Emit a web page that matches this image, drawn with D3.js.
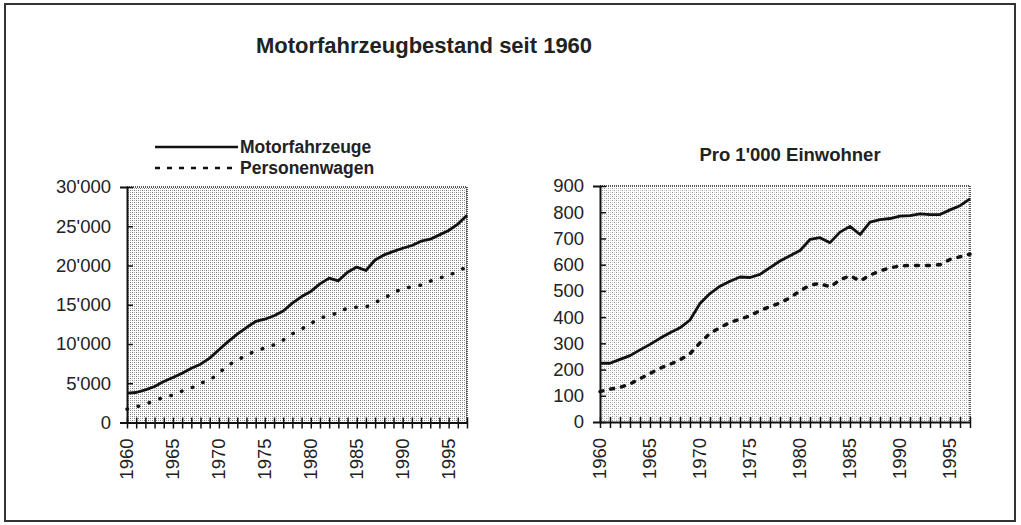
<!DOCTYPE html>
<html>
<head>
<meta charset="utf-8">
<script src="https://cdn.jsdelivr.net/npm/d3@7"></script>
<style>
  body { margin: 0; background: #fff; }
  svg { font-family: "Liberation Sans", Arial, sans-serif; }
</style>
</head>
<body>
<div id="chart"></div>
<script>
const years = d3.range(1960, 1998);
const labelYears = [1960, 1965, 1970, 1975, 1980, 1985, 1990, 1995];
const yTicksLeft = [0, 5000, 10000, 15000, 20000, 25000, 30000];
const yTicksRight = [0, 100, 200, 300, 400, 500, 600, 700, 800, 900];

// Bestand (absolut)
const motorTotal = [3740, 3820, 4160, 4590, 5220, 5730, 6280, 6920, 7430, 8200,
  9260, 10300, 11250, 12100, 12870, 13160, 13600, 14200, 15200, 16050,
  16700, 17660, 18400, 18050, 19150, 19800, 19360, 20700, 21360, 21800,
  22200, 22550, 23100, 23350, 23900, 24460, 25270, 26400];
const carsTotal = [1700, 2000, 2300, 2800, 3200, 3500, 4000, 4400, 5000, 5400,
  6300, 7300, 7900, 8600, 9100, 9500, 9900, 10500, 11300, 11900,
  12600, 13300, 13600, 14000, 14600, 14700, 14700, 15300, 15800, 16600,
  17000, 17300, 17500, 18000, 18400, 18700, 19300, 19800];

// Pro 1'000 Einwohner
const motorPer1000 = [224, 224, 239, 253, 275, 296, 319, 340, 359, 389,
  452, 490, 518, 537, 553, 551, 563, 589, 614, 634,
  654, 696, 703, 684, 724, 746, 715, 762, 772, 776,
  785, 787, 794, 791, 791, 809, 825, 851];
const carsPer1000 = [116, 125, 132, 145, 165, 185, 205, 220, 237, 260,
  302, 338, 360, 380, 392, 405, 425, 440, 454, 474,
  500, 522, 528, 515, 542, 558, 538, 560, 576, 588,
  595, 597, 597, 597, 600, 620, 630, 640];

const w = 1021, h = 525;
const svg = d3.select('#chart').append('svg').attr('width', w).attr('height', h);

const fmt = d3.formatLocale({ decimal: '.', thousands: "'", grouping: [3], currency: ['', ''] }).format(',');

const defs = svg.append('defs');
function stipple(id, dark, light) {
  const p = defs.append('pattern').attr('id', id).attr('patternUnits', 'userSpaceOnUse')
    .attr('width', 4).attr('height', 4);
  p.append('rect').attr('width', 4).attr('height', 4).attr('fill', '#fff');
  p.append('rect').attr('x', 0).attr('y', 0).attr('width', 1).attr('height', 1).attr('fill', dark);
  p.append('rect').attr('x', 2).attr('y', 2).attr('width', 1).attr('height', 1).attr('fill', dark);
  p.append('rect').attr('x', 2).attr('y', 0).attr('width', 1).attr('height', 1).attr('fill', light);
  p.append('rect').attr('x', 0).attr('y', 2).attr('width', 1).attr('height', 1).attr('fill', light);
}
stipple('dotsLeft', '#7a7a7a', '#aaaaaa');
stipple('dotsRight', '#999999', '#cccccc');

// outer frame
svg.append('rect').attr('x', 5).attr('y', 4).attr('width', 1010).attr('height', 517)
  .attr('fill', 'none').attr('stroke', '#333').attr('stroke-width', 2);

svg.append('text').attr('x', 424).attr('y', 53).attr('text-anchor', 'middle')
  .attr('font-size', 22).attr('font-weight', 'bold').attr('fill', '#222')
  .text('Motorfahrzeugbestand seit 1960');

// legend
const legend = svg.append('g');
legend.append('line').attr('x1', 155).attr('x2', 238).attr('y1', 147).attr('y2', 147)
  .attr('stroke', '#111').attr('stroke-width', 2.5);
legend.append('line').attr('x1', 155).attr('x2', 238).attr('y1', 168).attr('y2', 168)
  .attr('stroke', '#111').attr('stroke-width', 2.5).attr('stroke-dasharray', '5,7');
legend.append('text').attr('x', 240).attr('y', 153).attr('font-size', 17.5).attr('font-weight', 'bold')
  .attr('fill', '#222').text('Motorfahrzeuge');
legend.append('text').attr('x', 240).attr('y', 174).attr('font-size', 17.5).attr('font-weight', 'bold')
  .attr('fill', '#222').text('Personenwagen');

svg.append('text').attr('x', 790).attr('y', 161).attr('text-anchor', 'middle')
  .attr('font-size', 18.5).attr('font-weight', 'bold').attr('fill', '#222')
  .text("Pro 1'000 Einwohner");

function panel(cfg) {
  const x = d3.scaleLinear().domain([1960, 1997]).range([cfg.left, cfg.right]);
  const y = d3.scaleLinear().domain([0, cfg.max]).range([cfg.bottom, cfg.top]);
  const g = svg.append('g');

  g.append('rect').attr('x', cfg.left).attr('y', cfg.top)
    .attr('width', cfg.right - cfg.left).attr('height', cfg.bottom - cfg.top)
    .attr('fill', 'url(#' + cfg.pattern + ')');
  // top and right border, dotted look
  g.append('path')
    .attr('d', 'M' + cfg.left + ',' + cfg.top + 'H' + cfg.right + 'V' + cfg.bottom)
    .attr('fill', 'none').attr('stroke', '#555').attr('stroke-width', 2)
    .attr('stroke-dasharray', '1,1');

  const line = d3.line().x((d, i) => x(years[i])).y(d => y(d));
  g.append('path').datum(cfg.cars).attr('d', line).attr('fill', 'none')
    .attr('stroke', '#111').attr('stroke-width', 3.5).attr('stroke-linecap', 'round')
    .attr('stroke-dasharray', cfg.dash);
  g.append('path').datum(cfg.motor).attr('d', line).attr('fill', 'none')
    .attr('stroke', '#111').attr('stroke-width', 2.8).attr('stroke-linejoin', 'round');

  const yAxis = g.append('g').attr('transform', 'translate(' + cfg.left + ',0)')
    .call(d3.axisLeft(y).tickValues(cfg.ticks).tickFormat(fmt).tickSize(7).tickPadding(9));
  yAxis.select('.domain').attr('stroke', '#111').attr('stroke-width', 2);
  yAxis.selectAll('.tick line').attr('x2', 6).attr('stroke', '#111').attr('stroke-width', 1.5);
  yAxis.selectAll('.tick text').attr('font-size', 18.5).attr('fill', '#222')
    .attr('font-family', '"Liberation Sans", Arial, sans-serif');

  const xAxis = g.append('g').attr('transform', 'translate(0,' + cfg.bottom + ')')
    .call(d3.axisBottom(x).tickValues(years).tickFormat('').tickSize(6).tickSizeOuter(0));
  xAxis.select('.domain').attr('stroke', '#111').attr('stroke-width', 2);
  xAxis.selectAll('.tick line').attr('y1', -5).attr('stroke', '#111').attr('stroke-width', 1.5);

  g.selectAll('.xlab').data(labelYears).enter().append('text')
    .attr('transform', d => 'translate(' + (x(d) + 6) + ',' + (cfg.bottom + 16) + ') rotate(-90)')
    .attr('text-anchor', 'end').attr('font-size', 18.5).attr('fill', '#222')
    .text(d => d);
}

panel({ left: 127, right: 467, top: 187, bottom: 422.5, max: 30000, ticks: yTicksLeft,
  motor: motorTotal, cars: carsTotal, pattern: 'dotsLeft', dash: '0.5,11' });
panel({ left: 600, right: 970, top: 186, bottom: 422, max: 900, ticks: yTicksRight,
  motor: motorPer1000, cars: carsPer1000, pattern: 'dotsRight', dash: '3,8' });
</script>
</body>
</html>
